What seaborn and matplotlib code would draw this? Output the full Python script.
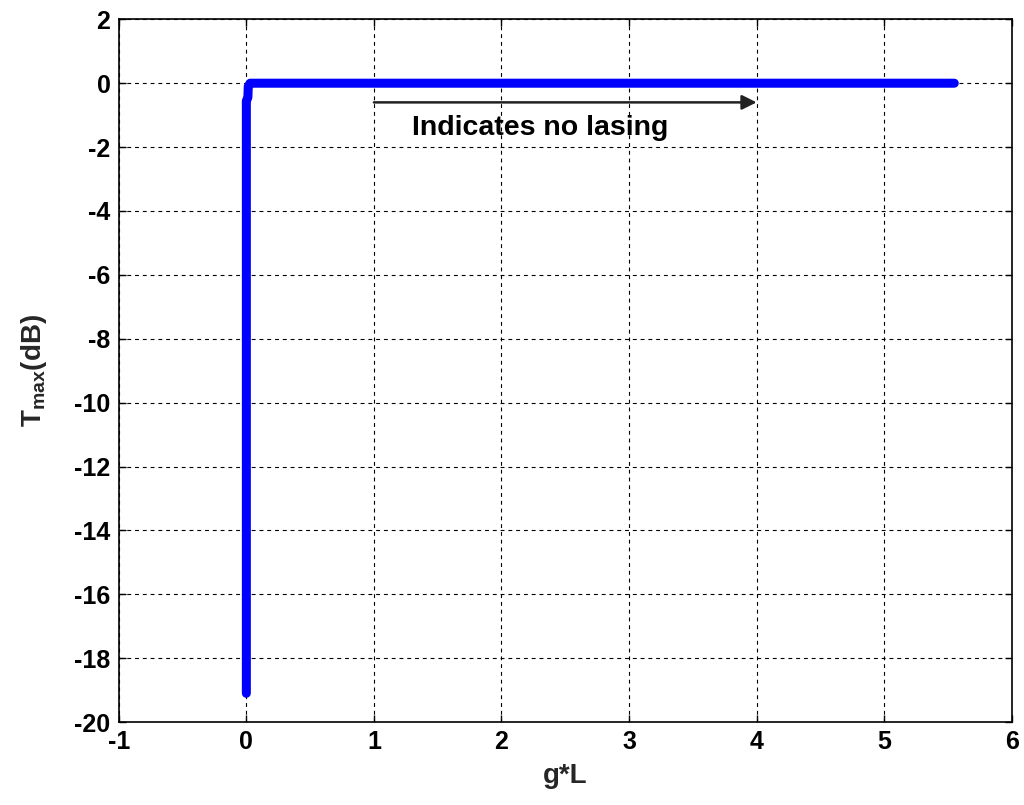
import numpy as np
import pandas as pd
import matplotlib
matplotlib.use("Agg")
import matplotlib.pyplot as plt
import seaborn as sns

# 数据：g*L 与 Tmax(dB)
gL = [0.0, 0.0, 0.012, 0.015, 0.03, 0.06, 5.55]
tmax_db = [-19.1, -0.55, -0.45, -0.1, 0.0, 0.0, 0.0]

x_ticks = [-1, 0, 1, 2, 3, 4, 5, 6]
y_ticks = [-20, -18, -16, -14, -12, -10, -8, -6, -4, -2, 0, 2]

arrow_start = (1.0, -0.6)
arrow_end = (4.0, -0.6)
note_text = "Indicates no lasing"

df = pd.DataFrame({"gL": gL, "Tmax": tmax_db})

sns.set_theme(style="white")
plt.rcParams["font.family"] = ["Liberation Sans", "DejaVu Sans"]
plt.rcParams["font.weight"] = "bold"

fig = plt.figure(figsize=(10.24, 8.05), dpi=100)
ax = fig.add_axes([0.116, 0.103, 0.872, 0.873])

sns.lineplot(data=df, x="gL", y="Tmax", sort=False, estimator=None,
             color="#0000ff", linewidth=6.5, ax=ax, solid_capstyle="round",
             solid_joinstyle="round")

ax.set_xlim(-1, 6)
ax.set_ylim(-20, 2)
ax.set_xticks(x_ticks)
ax.set_yticks(y_ticks)
ax.set_xticklabels([str(v) for v in x_ticks], fontsize=18, fontweight="bold")
ax.set_yticklabels([str(v) for v in y_ticks], fontsize=18, fontweight="bold")

# 网格（MATLAB 风格虚线）
ax.grid(True, color="black", linestyle=(0, (3.5, 3.5)), linewidth=0.8)
ax.set_axisbelow(True)

for side in ["top", "right", "bottom", "left"]:
    ax.spines[side].set_visible(True)
    ax.spines[side].set_color("black")
    ax.spines[side].set_linewidth(1.2)

ax.tick_params(direction="in", length=5, width=1, top=True, right=True,
               bottom=True, left=True, colors="black", pad=6)

ax.set_xlabel("g*L", fontsize=20, fontweight="bold", labelpad=6)
ax.set_ylabel(r"T$_{\mathregular{max}}$(dB)", fontsize=20, fontweight="bold", labelpad=18)

# 箭头与注释
ax.annotate("", xy=arrow_end, xytext=arrow_start,
            arrowprops=dict(arrowstyle="-|>", color="#222222", lw=1.8,
                            mutation_scale=22, shrinkA=0, shrinkB=0))
ax.text(1.3, -1.4, note_text, fontsize=20.5, fontweight="bold",
        ha="left", va="center", color="black")

fig.savefig("out.png", dpi=100)
plt.close(fig)
